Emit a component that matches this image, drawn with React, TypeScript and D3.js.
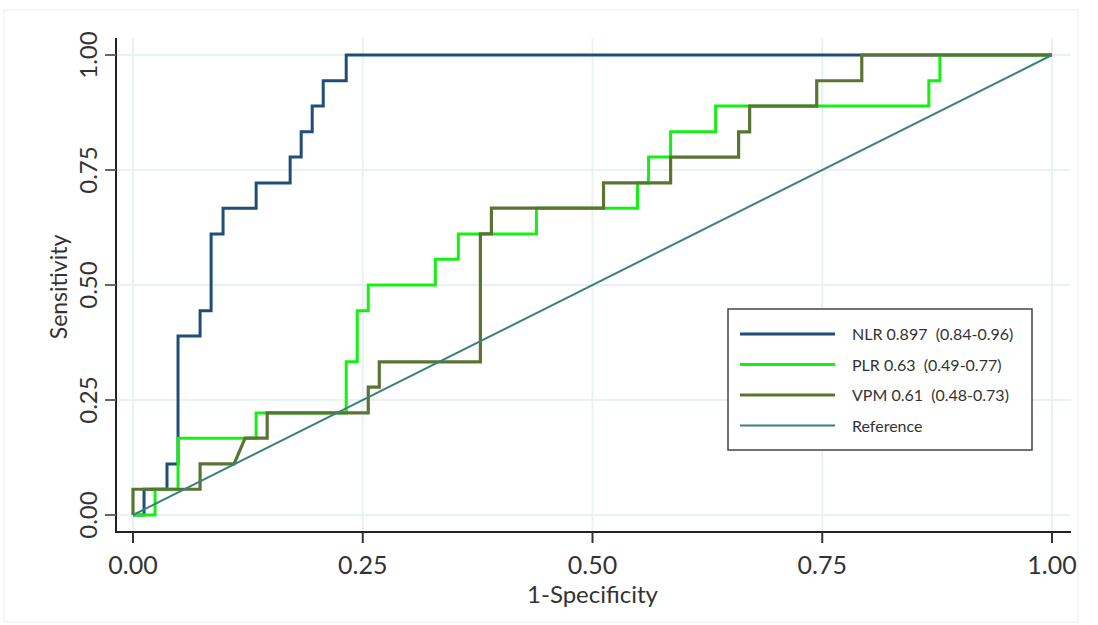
import React, { useRef, useEffect } from "react";
import { select, scaleLinear, line } from "d3";

const WIDTH = 1098;
const HEIGHT = 625;
const PLOT = { left: 116, right: 1071, top: 38, bottom: 532 };
const FONT = "Lato, 'Open Sans', sans-serif";

const COLOR_NLR = "#1f4e79";
const COLOR_PLR = "#14f014";
const COLOR_VPM = "#5a7533";
const COLOR_REF = "#3b807d";
const COLOR_GRID = "#e9f2f3";
const COLOR_TEXT = "#333333";

const ticks = [0, 0.25, 0.5, 0.75, 1];
const tickLabels = ["0.00", "0.25", "0.50", "0.75", "1.00"];

// ROC vertices (1-specificity, sensitivity)
const nlrFpr = [0, 0.012, 0.012, 0.037, 0.037, 0.049, 0.049, 0.073, 0.073, 0.085, 0.085, 0.098, 0.098, 0.134, 0.134, 0.171, 0.171, 0.183, 0.183, 0.195, 0.195, 0.207, 0.207, 0.232, 0.232, 1];
const nlrTpr = [0, 0, 0.056, 0.056, 0.111, 0.111, 0.389, 0.389, 0.444, 0.444, 0.611, 0.611, 0.667, 0.667, 0.722, 0.722, 0.778, 0.778, 0.833, 0.833, 0.889, 0.889, 0.944, 0.944, 1, 1];

const plrFpr = [0, 0.024, 0.024, 0.049, 0.049, 0.134, 0.134, 0.232, 0.232, 0.244, 0.244, 0.256, 0.256, 0.329, 0.329, 0.354, 0.354, 0.439, 0.439, 0.549, 0.549, 0.561, 0.561, 0.585, 0.585, 0.634, 0.634, 0.866, 0.866, 0.878, 0.878, 1];
const plrTpr = [0, 0, 0.056, 0.056, 0.167, 0.167, 0.222, 0.222, 0.333, 0.333, 0.444, 0.444, 0.5, 0.5, 0.556, 0.556, 0.611, 0.611, 0.667, 0.667, 0.722, 0.722, 0.778, 0.778, 0.833, 0.833, 0.889, 0.889, 0.944, 0.944, 1, 1];

const vpmFpr = [0, 0, 0.073, 0.073, 0.11, 0.122, 0.146, 0.146, 0.256, 0.256, 0.268, 0.268, 0.378, 0.378, 0.39, 0.39, 0.512, 0.512, 0.585, 0.585, 0.659, 0.659, 0.671, 0.671, 0.744, 0.744, 0.793, 0.793, 1];
const vpmTpr = [0, 0.056, 0.056, 0.111, 0.111, 0.167, 0.167, 0.222, 0.222, 0.278, 0.278, 0.333, 0.333, 0.611, 0.611, 0.667, 0.667, 0.722, 0.722, 0.778, 0.778, 0.833, 0.833, 0.889, 0.889, 0.944, 0.944, 1, 1];

const refFpr = [0, 1];
const refTpr = [0, 1];

const legendLabels = ["NLR 0.897  (0.84-0.96)", "PLR 0.63  (0.49-0.77)", "VPM 0.61  (0.48-0.73)", "Reference"];

const series = [
  { fpr: nlrFpr, tpr: nlrTpr, color: COLOR_NLR, width: 3 },
  { fpr: plrFpr, tpr: plrTpr, color: COLOR_PLR, width: 3 },
  { fpr: vpmFpr, tpr: vpmTpr, color: COLOR_VPM, width: 3.2 },
  { fpr: refFpr, tpr: refTpr, color: COLOR_REF, width: 2 }
];

export default function App() {
  const node = useRef<HTMLDivElement>(null);

  useEffect(() => {
    if (!node.current) return;
    node.current.innerHTML = "";

    const x = scaleLinear().domain([0, 1]).range([133, 1052]);
    const y = scaleLinear().domain([0, 1]).range([515, 55]);

    const svg = select(node.current)
      .append("svg")
      .attr("width", WIDTH)
      .attr("height", HEIGHT)
      .style("display", "block")
      .style("font-family", FONT);

    svg.append("rect").attr("width", WIDTH).attr("height", HEIGHT).attr("fill", "#ffffff");
    svg
      .append("rect")
      .attr("x", 4)
      .attr("y", 10)
      .attr("width", 1074)
      .attr("height", 612)
      .attr("fill", "none")
      .attr("stroke", "#eeeeee");

    // grid
    const grid = svg.append("g");
    ticks.forEach((t) => {
      grid
        .append("line")
        .attr("x1", PLOT.left)
        .attr("x2", PLOT.right)
        .attr("y1", y(t))
        .attr("y2", y(t))
        .attr("stroke", COLOR_GRID)
        .attr("stroke-width", 2);
      grid
        .append("line")
        .attr("x1", x(t))
        .attr("x2", x(t))
        .attr("y1", PLOT.top)
        .attr("y2", PLOT.bottom)
        .attr("stroke", COLOR_GRID)
        .attr("stroke-width", 2);
    });

    // axes
    const axes = svg.append("g");
    axes
      .append("line")
      .attr("x1", PLOT.left)
      .attr("x2", PLOT.left)
      .attr("y1", PLOT.top)
      .attr("y2", PLOT.bottom)
      .attr("stroke", "#222")
      .attr("stroke-width", 2);
    axes
      .append("line")
      .attr("x1", PLOT.left - 1)
      .attr("x2", PLOT.right)
      .attr("y1", PLOT.bottom)
      .attr("y2", PLOT.bottom)
      .attr("stroke", "#222")
      .attr("stroke-width", 2);

    ticks.forEach((t, i) => {
      axes
        .append("line")
        .attr("x1", PLOT.left - 11)
        .attr("x2", PLOT.left)
        .attr("y1", y(t))
        .attr("y2", y(t))
        .attr("stroke", "#666")
        .attr("stroke-width", 2);
      axes
        .append("text")
        .attr("transform", `translate(97,${y(t)}) rotate(-90)`)
        .attr("text-anchor", "middle")
        .attr("font-size", 24)
        .attr("fill", COLOR_TEXT)
        .text(tickLabels[i]);

      axes
        .append("line")
        .attr("x1", x(t))
        .attr("x2", x(t))
        .attr("y1", PLOT.bottom)
        .attr("y2", PLOT.bottom + 11)
        .attr("stroke", "#333")
        .attr("stroke-width", 2);
      axes
        .append("text")
        .attr("x", x(t))
        .attr("y", 574)
        .attr("text-anchor", "middle")
        .attr("font-size", 25)
        .attr("fill", COLOR_TEXT)
        .text(tickLabels[i]);
    });

    axes
      .append("text")
      .attr("transform", `translate(67,287) rotate(-90)`)
      .attr("text-anchor", "middle")
      .attr("font-size", 23)
      .attr("fill", COLOR_TEXT)
      .text("Sensitivity");
    axes
      .append("text")
      .attr("x", x(0.5))
      .attr("y", 603)
      .attr("text-anchor", "middle")
      .attr("font-size", 24)
      .attr("fill", COLOR_TEXT)
      .text("1-Specificity");

    // curves
    const path = line<number>()
      .x((d) => x(d[0]))
      .y((d) => y(d[1]));

    series.forEach((s) => {
      const pts = s.fpr.map((f, i) => [f, s.tpr[i]]);
      svg
        .append("path")
        .datum(pts)
        .attr("fill", "none")
        .attr("stroke", s.color)
        .attr("stroke-width", s.width)
        .attr("stroke-linejoin", "miter")
        .attr("d", path as any);
    });

    // legend
    const legend = svg.append("g");
    legend
      .append("rect")
      .attr("x", 728)
      .attr("y", 309)
      .attr("width", 304)
      .attr("height", 141)
      .attr("fill", "#ffffff")
      .attr("stroke", "#444")
      .attr("stroke-width", 1.5);

    series.forEach((s, i) => {
      const ly = 334 + i * 30.5;
      legend
        .append("line")
        .attr("x1", 740)
        .attr("x2", 835)
        .attr("y1", ly)
        .attr("y2", ly)
        .attr("stroke", s.color)
        .attr("stroke-width", s.width);
      legend
        .append("text")
        .attr("x", 852)
        .attr("y", ly + 6)
        .attr("font-size", 16)
        .attr("fill", COLOR_TEXT)
        .style("white-space", "pre")
        .text(legendLabels[i]);
    });
  }, []);

  return <div ref={node} style={{ position: "absolute", left: 0, top: 0 }} />;
}
